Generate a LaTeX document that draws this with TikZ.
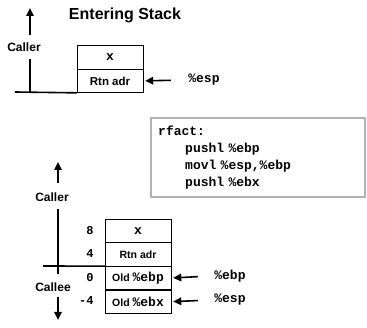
\documentclass[tikz,border=0pt]{standalone}
\usepackage{fontspec}
\setsansfont{Liberation Sans}
\setmonofont{Liberation Mono}
\usetikzlibrary{arrows.meta,positioning}

\tikzset{
  cell/.style={draw, rectangle, minimum width=66pt, minimum height=23.3pt, inner sep=0pt,
    font=\sffamily\bfseries\fontsize{10.5}{12}\selectfont},
  bigcell/.style={cell, minimum height=23.5pt, font=\sffamily\bfseries\fontsize{11.5}{13}\selectfont},
  lbl/.style={font=\sffamily\bfseries\fontsize{12}{14}\selectfont},
  reg/.style={font=\ttfamily\bfseries\fontsize{13}{15}\selectfont},
  offs/.style={anchor=east, font=\ttfamily\bfseries\fontsize{12}{14}\selectfont},
  ptr/.style={-{Triangle[length=8pt,width=7.5pt]}, line width=1.6pt},
  stem/.style={line width=1.6pt},
}
\newcommand{\rg}[1]{{\ttfamily\fontsize{13}{15}\selectfont #1}}

\begin{document}
\begin{tikzpicture}[x=1pt,y=-1pt]
  \useasboundingbox (0,0) rectangle (367,328);

  % entering stack
  \node[font=\sffamily\bfseries\fontsize{16}{18}\selectfont] (title) at (125,15) {Entering Stack};
  \node[bigcell] (topx) at (110,57) {\rg{x}};
  \node[bigcell, below=0pt of topx] (topret) {Rtn adr};
  \node[lbl] (caller1) at (24,47) {Caller};
  \node[reg] (esp1) at (204,80) {\%esp};
  \coordinate (up1) at (30,8);
  \coordinate (base1) at (30,92);
  \draw[stem] (15,92) -- (topret.south west);
  \draw[stem] (base1) -- (30,59);
  \draw[ptr] (30,35) -- (up1);
  \draw[ptr, shorten <=14pt, shorten >=2pt] (esp1.west) -- (topret.east);

  % code
  \node[anchor=north west, draw=black!80, double=gray!60, double distance=1.5pt, fill=white,
        minimum width=214pt, minimum height=79pt, text width=200pt, inner xsep=7pt, align=left,
        font=\ttfamily\bfseries\fontsize{13}{17}\selectfont] (code) at (151,118)
    {rfact:\\
     \hspace*{27pt}pushl \%ebp\\
     \hspace*{27pt}movl \%esp,\%ebp\\
     \hspace*{27pt}pushl \%ebx};

  % after setup
  \node[cell] (x) at (138,230.6) {\rg{x}};
  \node[cell, below=0pt of x] (ret) {Rtn adr};
  \node[cell, below=0pt of ret] (oldebp) {Old \rg{\%ebp}};
  \node[cell, below=0pt of oldebp] (oldebx) {Old \rg{\%ebx}};
  \node[offs] at (97,230.6) {8};
  \node[offs] at (97,253.9) {4};
  \node[offs] at (97,277.1) {0};
  \node[offs] at (97,300.4) {-4};
  \node[lbl] (caller2) at (52,197) {Caller};
  \node[lbl] (callee) at (53,287) {Callee};
  \node[reg] (ebp) at (230,276) {\%ebp};
  \node[reg] (esp2) at (230,300) {\%esp};
  \draw[stem] (43,266) -- (oldebp.north west);
  \draw[stem] (58,274) -- (58,209);
  \draw[ptr] (58,183) -- (58,162);
  \draw[ptr] (58,297) -- (58,320);
  \draw[ptr, shorten <=13pt, shorten >=2pt] (ebp.west) -- (oldebp.east);
  \draw[ptr, shorten <=13pt, shorten >=2pt] (esp2.west) -- (oldebx.east);
\end{tikzpicture}
\end{document}
